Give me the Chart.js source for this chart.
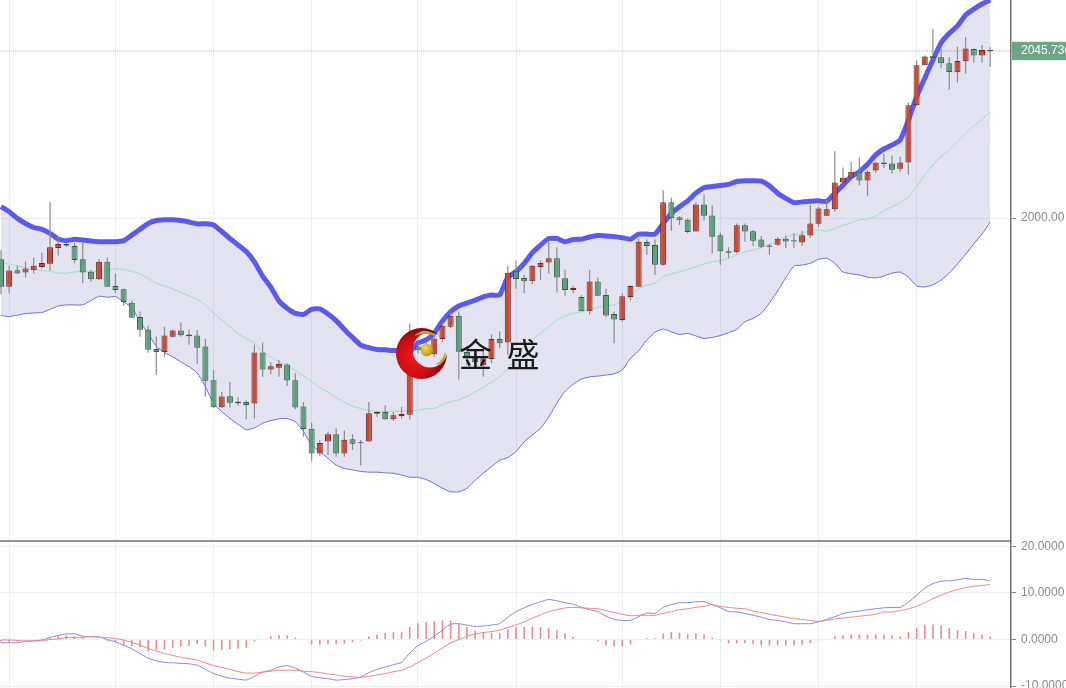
<!DOCTYPE html>
<html><head><meta charset="utf-8">
<style>
html,body{margin:0;padding:0;background:#fff;overflow:hidden}
#wrap{position:relative;width:1066px;height:688px;overflow:hidden}
#c{filter:blur(0.35px)}
#logo{position:absolute;left:390px;top:322px;width:64px;height:64px;pointer-events:none}
#brand{position:absolute;left:459px;top:329px;font:33px/48px "Noto Sans CJK SC";color:#1a1a1a;letter-spacing:3.5px;word-spacing:0;white-space:pre;pointer-events:none}
</style>
</head><body>
<div id="wrap">
<canvas id="c" width="1066" height="688"></canvas>
<svg id="logo" viewBox="0 0 64 64">
<defs>
<radialGradient id="rg" cx="38%" cy="58%" r="62%"><stop offset="0" stop-color="#f01a1a"/><stop offset=".62" stop-color="#c80d12"/><stop offset="1" stop-color="#6e0508"/></radialGradient>
<radialGradient id="gg" cx="40%" cy="35%" r="70%"><stop offset="0" stop-color="#f2da55"/><stop offset="1" stop-color="#b8930f"/></radialGradient>
<mask id="mk"><rect width="64" height="64" fill="#fff"/><circle cx="40" cy="28" r="17.5" fill="#000"/></mask>
</defs>
<circle cx="31.5" cy="31.5" r="25.5" fill="url(#rg)" mask="url(#mk)"/>
<path d="M24 14Q36 3 47 15Q36 9 24 14Z" fill="#c9a227"/>
<path d="M45 43Q58 41 55 29Q54 38 45 43Z" fill="#c9a227"/>
<circle cx="36.7" cy="28" r="6.2" fill="url(#gg)"/>
</svg>
<div id="brand">金 盛</div>
</div>
<script src="https://cdn.jsdelivr.net/npm/chart.js@4/dist/chart.umd.js"></script>
<script>
const opens=[1988.7,1981.2,1985.7,1985.1,1985.7,1986.6,1987.5,1991.8,1992.9,1992.3,
1988.7,1985.3,1983.2,1988.0,1981.4,1980.5,1976.8,1972.9,1969.5,1964.1,
1963.3,1967.5,1969.2,1968.1,1967.8,1964.8,1955.6,1948.2,1951.2,1949.3,
1949.6,1949.2,1963.2,1958.5,1959.0,1959.9,1955.6,1948.4,1942.3,1935.5,
1938.8,1940.8,1935.5,1939.4,1938.3,1938.8,1946.4,1946.9,1944.9,1945.8,
1946.1,1964.8,1963.8,1962.7,1966.9,1970.2,1973.2,1963.3,1961.7,1959.7,
1961.4,1966.9,1965.9,1985.4,1983.6,1982.7,1986.6,1987.8,1989.0,1983.5,
1980.3,1978.4,1974.5,1982.6,1978.9,1973.7,1972.1,1978.4,1981.2,1993.4,
1992.6,1987.2,2004.3,2000.2,1999.5,1996.3,2003.7,2000.7,1995.3,1990.9,
1990.6,1998.0,1996.4,1994.1,1992.1,1992.7,1994.3,1993.9,1993.3,1995.2,
1998.4,2000.6,2002.4,2009.7,2011.0,2012.7,2010.3,2013.0,2015.2,2014.9,
2013.5,2015.2,2030.9,2041.8,2044.3,2044.0,2042.4,2039.9,2042.9,2046.3,
2044.5,2046.0];
const closes=[1981.2,1985.6,1984.8,1986.2,1986.9,1987.7,1992.0,1992.9,1992.4,1988.5,
1985.1,1983.2,1988.0,1981.2,1980.3,1977.0,1972.7,1969.4,1963.9,1963.3,
1967.8,1969.2,1967.9,1967.6,1964.5,1955.4,1948.2,1951.1,1949.4,1949.7,
1948.8,1963.2,1958.5,1959.4,1960.0,1955.5,1948.1,1942.2,1935.5,1938.4,
1940.8,1935.5,1939.3,1938.2,1938.6,1946.5,1946.9,1944.9,1946.0,1946.3,
1964.8,1963.8,1965.2,1967.0,1970.5,1973.2,1963.4,1961.9,1960.6,1961.6,
1966.9,1965.7,1985.0,1983.3,1982.7,1986.9,1987.7,1989.0,1983.7,1980.3,
1980.8,1974.5,1982.6,1978.7,1973.3,1972.2,1978.6,1981.4,1993.5,1992.3,
1987.2,2004.3,1999.9,1999.4,1996.2,2003.7,2000.6,1994.9,1990.9,1990.5,
1998.0,1996.3,1993.8,1992.1,1992.5,1994.3,1993.6,1993.6,1995.3,1998.5,
2002.6,2002.4,2009.7,2011.0,2012.7,2010.3,2012.7,2015.2,2014.8,2013.2,
2015.2,2030.9,2041.8,2044.2,2043.8,2042.4,2040.0,2043.0,2046.4,2044.5,
2046.0,2045.736];
const highs=[1991.2,1986.9,1986.9,1988.1,1989.2,1990.5,2004.4,1994.9,1993.1,1993.2,
1993.2,1985.8,1988.7,1989.2,1984.8,1980.7,1977.4,1974.4,1970.5,1967.5,
1970.2,1969.5,1971.4,1969.5,1969.3,1966.9,1958.4,1952.4,1955.1,1950.9,
1950.1,1965.3,1965.9,1960.5,1961.1,1960.2,1957.5,1949.6,1943.9,1939.2,
1941.5,1942.4,1941.8,1940.8,1939.2,1949.6,1947.1,1948.7,1946.8,1948.3,
1971.1,1965.7,1966.1,1968.4,1971.1,1974.3,1974.3,1964.3,1962.5,1963.8,
1968.1,1969.0,1986.9,1988.3,1984.4,1987.1,1988.3,1993.5,1992.0,1985.8,
1981.4,1978.9,1985.8,1983.7,1980.7,1974.3,1979.4,1981.6,1994.4,1994.2,
1994.2,2007.7,2005.6,2000.5,1999.9,2004.3,2006.5,2003.5,1996.0,1992.0,
1998.5,1998.5,1996.7,1995.1,1992.9,1994.7,1995.3,1995.8,1996.5,2003.6,
2003.1,2004.9,2018.3,2013.8,2015.4,2016.5,2013.1,2015.2,2017.5,2017.1,
2016.8,2031.6,2043.1,2044.5,2051.8,2046.7,2044.0,2046.9,2049.5,2046.4,
2047.4,2046.8];
const lows=[1979.1,1979.4,1984.7,1983.7,1984.8,1986.2,1985.6,1989.7,1992.1,1987.6,
1982.1,1982.6,1983.0,1981.2,1979.5,1976.0,1972.7,1967.5,1963.1,1957.0,
1962.0,1967.3,1967.5,1965.3,1960.0,1951.1,1947.9,1947.9,1948.1,1948.5,
1944.9,1945.1,1956.5,1957.3,1956.5,1954.0,1947.6,1940.1,1933.4,1934.9,
1935.1,1934.6,1934.6,1936.5,1932.2,1938.7,1945.6,1944.8,1944.4,1945.1,
1944.8,1962.9,1962.5,1962.0,1966.1,1969.8,1955.8,1959.7,1959.7,1956.5,
1960.2,1964.3,1962.5,1980.6,1979.4,1981.9,1983.0,1984.8,1979.6,1978.7,
1979.4,1974.5,1973.6,1978.6,1972.8,1965.7,1971.6,1977.4,1981.2,1989.9,
1984.4,1986.9,1996.5,1998.1,1995.8,1996.3,1999.3,1990.3,1987.2,1989.0,
1990.3,1993.5,1992.3,1991.7,1989.9,1992.5,1991.7,1991.7,1992.3,1994.6,
1997.6,2000.5,2001.7,2009.5,2010.9,2009.0,2006.0,2012.4,2013.6,2012.1,
2012.7,2011.8,2030.8,2041.8,2043.7,2041.0,2035.2,2037.1,2039.6,2042.6,
2042.5,2041.4];
const bandUpper=[2003.1,2001.7,1999.9,1998.5,1997.4,1996.9,1995.8,1994.2,1993.8,1994.2,
1994.0,1993.7,1993.5,1993.5,1993.5,1993.8,1995.3,1996.9,1998.5,1999.3,
1999.5,1999.5,1999.3,1998.9,1998.4,1998.4,1998.1,1996.3,1994.4,1992.6,
1990.8,1988.0,1984.1,1981.1,1977.3,1975.3,1973.9,1973.6,1975.0,1975.1,
1973.7,1971.9,1969.5,1967.3,1965.2,1964.5,1964.0,1963.9,1963.7,1963.6,
1963.4,1965.8,1966.6,1968.5,1971.8,1974.3,1975.9,1976.7,1977.5,1978.4,
1978.9,1978.9,1983.8,1985.3,1987.6,1990.5,1992.6,1994.4,1994.4,1993.5,
1994.1,1994.2,1994.8,1995.2,1995.1,1994.9,1994.6,1994.2,1995.6,1995.6,
1995.6,1998.5,2001.3,2003.1,2004.7,2006.8,2008.3,2008.6,2008.9,2009.2,
2010.0,2010.2,2010.2,2010.1,2008.8,2006.8,2005.4,2004.2,2004.4,2004.6,
2004.7,2004.5,2006.8,2009.0,2011.3,2012.7,2014.7,2017.3,2018.9,2020.0,
2021.4,2026.8,2033.2,2038.3,2043.3,2048.0,2050.6,2052.6,2055.6,2057.2,
2058.6,2059.7];
const bandMid=[1988.0,1987.4,1986.9,1986.4,1985.9,1985.6,1985.5,1984.9,1984.9,1985.2,
1985.4,1985.4,1985.5,1985.8,1986.1,1985.9,1985.4,1984.7,1983.5,1982.1,
1981.4,1980.6,1979.6,1978.7,1977.7,1976.2,1973.9,1972.1,1970.2,1968.4,
1967.0,1965.7,1963.4,1962.0,1960.6,1959.7,1958.2,1956.7,1955.2,1953.6,
1952.3,1950.8,1949.5,1948.5,1947.8,1947.3,1947.1,1947.0,1947.0,1947.1,
1947.2,1947.4,1947.7,1947.9,1948.8,1949.7,1950.2,1951.2,1952.4,1953.6,
1955.0,1956.5,1958.8,1961.5,1964.8,1966.6,1968.4,1970.2,1972.1,1973.2,
1973.9,1974.3,1975.0,1975.5,1976.0,1976.2,1977.1,1978.5,1980.7,1981.6,
1982.1,1983.9,1984.7,1985.3,1985.9,1986.6,1987.4,1988.0,1988.3,1989.0,
1989.9,1990.7,1991.2,1992.0,1992.8,1993.8,1994.7,1995.5,1995.6,1996.7,
1996.7,1996.4,1997.2,1998.0,1998.7,1999.5,1999.8,2000.5,2002.0,2003.1,
2004.2,2005.8,2008.6,2011.8,2014.5,2016.8,2018.6,2020.9,2023.2,2025.2,
2027.0,2029.0];
const bandLower=[1973.3,1973.0,1973.4,1973.8,1974.0,1974.1,1975.0,1975.9,1976.2,1976.2,
1976.2,1977.4,1978.6,1978.3,1978.5,1977.0,1975.5,1971.6,1968.4,1964.8,
1963.2,1962.0,1960.6,1959.3,1957.6,1953.8,1949.2,1947.0,1945.1,1943.5,
1942.0,1942.5,1943.8,1944.5,1945.0,1945.1,1944.2,1941.5,1937.8,1936.0,
1934.2,1932.3,1931.4,1931.0,1930.6,1930.4,1930.4,1930.2,1930.1,1929.6,
1929.0,1929.0,1928.4,1927.3,1926.0,1925.0,1925.0,1926.0,1928.2,1930.1,
1931.9,1933.7,1934.4,1936.0,1938.7,1940.6,1942.4,1945.5,1949.3,1952.6,
1954.5,1955.9,1956.5,1956.7,1957.0,1957.3,1958.4,1961.6,1963.6,1966.6,
1968.7,1969.6,1968.8,1968.1,1968.4,1967.7,1967.0,1967.3,1967.8,1968.6,
1969.5,1971.6,1972.5,1973.9,1976.7,1980.0,1983.6,1986.9,1987.1,1987.6,
1988.7,1989.0,1987.6,1985.2,1984.7,1984.4,1983.8,1983.6,1984.1,1984.9,
1985.2,1983.8,1981.4,1981.1,1981.7,1983.0,1984.9,1987.4,1990.1,1992.9,
1995.6,1998.9];
const macdDif=[-0.7,-0.7,-0.7,-0.4,-0.3,-0.1,0.4,0.9,1.2,1.2,
0.7,0.6,0.6,0,-0.5,-1.2,-2,-3,-4,-4.6,
-4.9,-5,-5.1,-5.2,-5.5,-6.4,-7.3,-7.9,-8.3,-8.5,
-8.7,-7.9,-7,-6.6,-5.9,-5.6,-6.1,-7,-7.9,-8.2,
-8.4,-8.7,-8.6,-8.4,-8.1,-7.1,-6.4,-5.9,-5.4,-4.9,
-2.9,-1.3,-0.4,0.7,2,3.3,3.4,3.1,2.8,2.9,
3.1,3.4,4.8,6,6.8,7.5,8.1,8.6,8.3,7.9,
7.6,6.9,6.4,6,5,4.3,4.1,4.1,4.9,5.7,
5.6,6.9,7.5,7.9,7.9,8.1,8.1,7.5,6.8,6,
5.9,5.6,5.2,4.8,4.3,4.1,3.8,3.4,3.4,3.4,
3.8,4.3,4.9,5.6,5.9,6.1,6.4,6.6,6.8,6.9,
6.9,8,9.5,11,12,12.5,12.6,12.8,13.1,12.9,
12.9,12.6];
const macdDea=[-0.1,-0.1,-0.2,-0.3,-0.3,-0.3,0,0.1,0.4,0.4,
0.5,0.6,0.5,0.4,0.2,-0.1,-0.6,-1.2,-1.9,-2.5,
-3,-3.4,-3.8,-4.1,-4.4,-5,-5.6,-6,-6.4,-6.9,
-7.2,-7.2,-7,-6.8,-6.6,-6.6,-6.6,-6.8,-6.9,-7.1,
-7.4,-7.6,-7.9,-8,-8.1,-7.9,-7.6,-7.3,-6.9,-6.6,
-5.9,-4.9,-4,-2.9,-1.8,-0.7,0,0.7,1.2,1.5,
1.7,2,2.6,3.1,3.8,4.6,5.3,6,6.4,6.8,
6.9,6.8,6.7,6.6,6.2,5.8,5.4,5.1,5.2,5.2,
5.2,5.6,6,6.4,6.6,6.9,7.1,7.5,7.1,6.9,
6.7,6.6,6.1,5.8,5.4,5.1,4.8,4.5,4.3,4.1,
3.9,4.1,4.4,4.6,4.8,5,5.2,5.4,5.9,5.9,
6.2,6.6,7.1,7.9,8.8,9.5,10.2,10.7,11.1,11.4,
11.6,11.8];
const macdHist=[-0.6,-0.6,-0.5,-0.1,0,0.2,0.4,0.7,0.9,0.7,
0.5,0.1,0.1,-0.3,-0.5,-1.3,-1.4,-1.6,-2.5,-2.3,
-2.2,-1.8,-1.5,-1.4,-1,-1.5,-2.3,-2.3,-2.1,-2,
-1.8,-0.4,0.1,0.7,0.9,0.9,0.4,0,-1.1,-1.1,
-1,-1,-0.9,-0.6,-0.2,0.7,1.1,1.4,1.6,1.6,
2.7,3.5,3.7,3.9,4.1,4.1,3.4,2.7,2,1.6,
1.4,1.4,2.2,2.7,2.7,2.7,2.7,2.5,2,1.3,
0.6,0,-0.15,-0.4,-1.3,-1.5,-1.5,-1.1,0,0.3,
0.3,1.3,1.6,1.5,1.1,1.3,1.1,0.4,-0.2,-0.8,
-0.8,-0.8,-1,-1.3,-1.3,-1.3,-1.3,-1.3,-1.1,-0.8,
-0.2,0,0.7,0.9,1.1,1.1,1.1,1.1,1.1,0.9,
0.7,1.6,2.5,3.2,3.2,3,2.5,2,1.8,1.3,
1.1,0.6];
const lastPrice=2045.736;
const priceTicks=[2000,lastPrice];
const priceTickLabels=["2000.00","2045.736"];
const macdTicks=[20,10,0,-10];
const macdTickLabels=["20.0000","10.0000","0.0000","-10.0000"];
const gridIndexes=[1,14,26,38,51,63,76,88,100,112];

const xy=a=>a.map((v,i)=>({x:i,y:v}));
const isUp=i=>closes[i]>=opens[i];
const FONT='"Liberation Sans"';
const candleBody=opens.map((o,i)=>({x:i,y:[o,closes[i]]}));
const candleWick=highs.map((h,i)=>({x:i,y:[lows[i],h]}));
const bar={type:'bar',grouped:false,barPercentage:1,categoryPercentage:1,borderSkipped:false,inflateAmount:0};
const line={type:'line',pointRadius:0,pointHoverRadius:0,tension:0.15,fill:false};
const noPad=s=>{s.paddingTop=0;s.paddingBottom=0;s.paddingLeft=0;s.paddingRight=0;};

const divider={id:'divider',afterDatasetsDraw(ch){
  const c=ch.ctx,y=ch.scales.macd.top;
  c.save();c.strokeStyle='#6f6f78';c.lineWidth=1.5;
  c.beginPath();c.moveTo(0,y);c.lineTo(ch.chartArea.right,y);c.stroke();c.restore();
}};

new Chart(document.getElementById('c'),{
  type:'bar',
  plugins:[divider],
  data:{datasets:[
    {...bar,label:'Body',data:candleBody,yAxisID:'y',order:1,maxBarThickness:6,borderWidth:1,
      backgroundColor:opens.map((o,i)=>isUp(i)?'#cc4a37':'#629e7e'),
      borderColor:opens.map((o,i)=>isUp(i)?'#6e2a20':'#2f5f48')},
    {...bar,label:'Wick',data:candleWick,yAxisID:'y',order:2,maxBarThickness:1.2,backgroundColor:'#8c8c8c',borderWidth:0},
    {...line,label:'Upper',data:xy(bandUpper),yAxisID:'y',order:4,borderColor:'#5a5aee',borderWidth:5,
      fill:{target:4},backgroundColor:'rgba(80,80,170,0.16)'},
    {...line,label:'Mid',data:xy(bandMid),yAxisID:'y',order:3,borderColor:'#97dfc5',borderWidth:1},
    {...line,label:'Lower',data:xy(bandLower),yAxisID:'y',order:5,borderColor:'#6f6fe8',borderWidth:1},
    {...line,label:'Last',data:[{x:-1,y:lastPrice},{x:124,y:lastPrice}],yAxisID:'y',order:6,borderColor:'#8fc0a8',borderWidth:1,borderDash:[1,1],tension:0},
    {...bar,label:'MACD',data:xy(macdHist),yAxisID:'macd',order:9,maxBarThickness:1.6,backgroundColor:'rgba(228,90,90,0.7)',borderWidth:0},
    {...line,label:'DIF',data:xy(macdDif),yAxisID:'macd',order:8,borderColor:'#8686e4',borderWidth:1},
    {...line,label:'DEA',data:xy(macdDea),yAxisID:'macd',order:7,borderColor:'#ec8585',borderWidth:1}
  ]},
  options:{
    responsive:false,animation:false,events:[],
    layout:{padding:0},
    plugins:{legend:{display:false},tooltip:{enabled:false}},
    scales:{
      x:{type:'linear',position:'bottom',offset:false,min:-0.1223,max:123.55,
        afterBuildTicks(s){s.ticks=gridIndexes.map(v=>({value:v}));},
        afterFit(s){s.height=0;noPad(s);},
        ticks:{display:false,autoSkip:false},
        border:{display:false},
        grid:{offset:false,color:'#eaf1f5',lineWidth:1,drawTicks:false}},
      y:{position:'right',stack:'all',stackWeight:541,min:1911.55,max:2059.7,
        afterBuildTicks(s){s.ticks=priceTicks.map(v=>({value:v}));},
        afterFit(s){s.width=55;noPad(s);},
        border:{display:true,color:'#6f6f78',width:1.5},
        grid:{color:c=>c.tick&&c.tick.value===lastPrice?'rgba(0,0,0,0)':'#e9f1f4',tickColor:'#8a8a8a',tickLength:5},
        ticks:{padding:5,autoSkip:false,maxRotation:0,
          callback:(v,i)=>priceTickLabels[i],
          font:{family:FONT,size:12},
          color:c=>c.index===1?'#ffffff':'#8a8a8a',
          showLabelBackdrop:c=>c.index===1,
          backdropColor:'#6fa487',
          backdropPadding:{left:9,right:10,top:2,bottom:2}}},
      macd:{position:'right',stack:'all',stackWeight:147,min:-10.4,max:21.14,
        afterBuildTicks(s){s.ticks=macdTicks.map(v=>({value:v}));},
        afterFit(s){s.width=55;noPad(s);},
        border:{display:true,color:'#6f6f78',width:1.5},
        grid:{color:'#eaf1f5',tickColor:'#8a8a8a',tickLength:5},
        ticks:{padding:5,autoSkip:false,maxRotation:0,
          callback:(v,i)=>macdTickLabels[i],
          font:{family:FONT,size:12},color:'#8a8a8a'}}
    }
  }
});
</script>
</body></html>
